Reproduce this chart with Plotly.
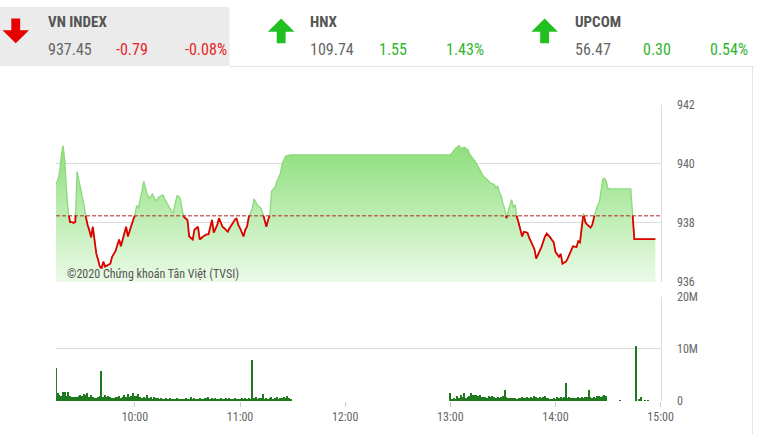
import plotly.graph_objects as go
import pandas as pd

DAY = "2020-06-15 "
W, H = 767, 441
REF = 938.24

price_times = [
 "09:15","09:16","09:17","09:18","09:19","09:20","09:21","09:22","09:23","09:24","09:25","09:26","09:27","09:28","09:29",
 "09:30","09:31","09:32","09:33","09:34","09:35","09:36","09:37","09:38","09:39","09:40","09:41","09:42","09:43","09:44",
 "09:45","09:46","09:47","09:48","09:49","09:50","09:51","09:52","09:53","09:54","09:55","09:56","09:57","09:58","09:59",
 "10:00","10:01","10:02","10:03","10:04","10:05","10:06","10:07","10:08","10:09","10:10","10:11","10:12","10:13","10:14",
 "10:15","10:16","10:17","10:18","10:19","10:20","10:21","10:22","10:23","10:24","10:25","10:26","10:27","10:28","10:29",
 "10:30","10:31","10:32","10:33","10:34","10:35","10:36","10:37","10:38","10:39","10:40","10:41","10:42","10:43","10:44",
 "10:45","10:46","10:47","10:48","10:49","10:50","10:51","10:52","10:53","10:54","10:55","10:56","10:57","10:58","10:59",
 "11:00","11:01","11:02","11:03","11:04","11:05","11:06","11:07","11:08","11:09","11:10","11:11","11:12","11:13","11:14",
 "11:15","11:16","11:17","11:18","11:19","11:20","11:21","11:22","11:23","11:24","11:25","11:26","11:27","11:28","11:29",
 "13:00","13:01","13:02","13:03","13:04","13:05","13:06","13:07","13:08","13:09","13:10","13:11","13:12","13:13","13:14",
 "13:15","13:16","13:17","13:18","13:19","13:20","13:21","13:22","13:23","13:24","13:25","13:26","13:27","13:28","13:29",
 "13:30","13:31","13:32","13:33","13:34","13:35","13:36","13:37","13:38","13:39","13:40","13:41","13:42","13:43","13:44",
 "13:45","13:46","13:47","13:48","13:49","13:50","13:51","13:52","13:53","13:54","13:55","13:56","13:57","13:58","13:59",
 "14:00","14:01","14:02","14:03","14:04","14:05","14:06","14:07","14:08","14:09","14:10","14:11","14:12","14:13","14:14",
 "14:15","14:16","14:17","14:18","14:19","14:20","14:21","14:22","14:23","14:24","14:25","14:26","14:27","14:28","14:29",
 "14:30","14:43","14:45","14:57"]

price_values = [
 939.31,939.45,939.70,940.30,940.62,940.13,939.08,938.36,938.03,938.03,938.00,938.03,939.74,939.45,939.20,
 938.98,938.60,938.20,937.93,937.75,937.51,937.87,937.40,936.95,936.75,936.52,936.46,936.69,936.52,936.55,
 936.59,936.62,936.85,936.95,937.05,937.25,937.44,937.21,937.45,937.61,937.87,937.54,937.75,937.93,938.10,
 938.25,938.59,938.49,938.75,939.08,939.41,939.15,938.98,938.82,938.90,938.98,938.85,938.75,938.82,938.89,
 938.92,938.95,938.82,938.69,938.60,938.49,938.40,938.33,938.66,938.92,938.90,938.82,938.43,938.20,938.15,
 938.10,937.54,937.48,937.44,937.77,937.82,937.87,937.44,937.50,937.54,937.58,937.61,937.61,937.85,938.10,
 937.67,937.80,937.93,938.16,938.00,937.87,937.82,937.77,937.70,937.82,937.93,938.03,938.10,938.16,937.93,
 937.82,937.70,937.54,937.77,937.87,938.20,938.35,938.49,938.82,938.69,938.59,938.55,938.49,938.33,938.10,
 937.87,938.10,938.26,939.08,939.15,939.21,939.41,939.55,939.67,940.00,940.16,940.26,940.28,940.30,940.30,
 940.30,940.39,940.45,940.52,940.58,940.62,940.52,940.54,940.56,940.52,940.49,940.33,940.26,940.20,940.10,
 940.00,939.90,939.80,939.70,939.57,939.52,939.48,939.41,939.34,939.33,939.31,939.18,939.25,939.05,938.92,
 938.66,938.49,938.16,938.43,938.60,938.79,938.52,938.62,938.20,938.00,937.75,937.54,937.70,937.68,937.67,
 937.50,937.38,937.25,937.11,936.79,936.95,937.05,937.18,937.38,937.54,937.64,937.58,937.51,937.42,937.34,
 937.02,936.92,936.85,936.95,936.62,936.66,936.69,936.80,936.95,937.11,937.21,937.20,937.18,937.38,937.34,
 937.85,938.33,938.03,937.95,937.90,937.84,937.93,938.20,938.40,938.59,938.69,939.08,939.48,939.51,939.41,
 939.15,939.15,937.45,937.45]

# volume (millions) per minute, morning session 09:15-11:29
vol_am = [
 6.4,
 1.7,1.2,1.0,1.8,1.8,1.1,1.9,1.0,0.9,
 0.8,0.9,0.8,1.0,1.3,1.1,1.5,1.2,1.6,0.9,
 1.3,0.9,0.7,0.6,0.8,1.1,5.8,0.9,1.2,0.9,
 1.0,0.8,0.7,0.7,0.9,0.8,1.0,0.7,0.9,1.3,
 0.9,1.4,0.8,1.0,1.6,1.1,1.0,1.5,0.8,0.6,
 0.9,0.6,1.2,0.7,0.9,0.5,0.8,0.6,0.7,0.5,
 0.6,0.5,0.4,0.6,0.5,0.7,0.4,0.5,0.4,0.6,
 0.5,0.4,0.5,0.4,0.6,0.5,0.4,0.8,0.5,0.6,
 0.4,0.5,0.6,0.4,0.5,0.7,0.6,0.8,0.5,0.6,
 0.5,0.7,0.4,0.5,0.6,0.4,0.5,0.6,0.5,0.7,
 0.5,0.4,0.6,0.5,0.4,0.5,0.6,0.5,0.7,0.4,
 0.6,0.5,7.9,0.6,0.8,0.5,0.7,0.6,1.4,0.5,
 0.7,0.5,0.6,0.8,0.5,0.6,0.9,0.5,0.7,0.6,
 0.8,0.6,1.0,0.7,0.5]
# afternoon session 13:00-14:29
vol_pm = [
 1.6,0.4,0.7,0.5,1.0,0.6,1.2,0.9,1.6,0.7,
 0.8,1.0,1.7,1.3,1.3,1.3,1.0,1.2,0.9,0.8,
 0.9,0.7,1.0,0.8,1.1,0.9,0.7,0.8,0.6,0.9,
 1.0,2.2,0.9,0.7,0.6,0.7,0.6,0.6,0.5,0.7,
 0.6,0.8,0.7,0.6,0.9,0.7,0.8,0.7,1.0,0.8,
 0.7,0.9,0.6,0.8,1.1,0.7,0.6,0.5,0.4,0.6,
 0.5,0.8,0.7,0.9,0.6,0.8,3.5,0.7,0.8,0.6,
 0.7,0.6,0.7,0.8,0.6,0.9,0.7,0.8,0.9,2.2,
 0.8,0.6,0.9,0.7,1.0,1.1,0.9,1.1,1.2,1.1]
vol_late_times = ["14:37","14:46","14:48","14:49","14:51","14:53"]
vol_late = [0.3,10.6,0.5,0.8,0.3,0.15]

price_ticks = [936, 938, 940, 942]
vol_ticks = [0, 10, 20]
vol_tick_text = ["0", "10M", "20M"]

header = [
    # (name, last, change, pct, is_up, x_arrow, x_text, x_chg, x_pct)
    ("VN INDEX", "937.45", "-0.79", "-0.08%", False, 16, 47.5, 116.5, 187),
    ("HNX", "109.74", "1.55", "1.43%", True, 286, 314.5, 384.5, 453),
    ("UPCOM", "56.47", "0.30", "0.54%", True, 554, 583.5, 653, 721),
]

FONT = "Liberation Sans Narrow, Roboto Condensed, Roboto, sans-serif"

def X(px): return px / W
def Y(py): return 1 - py / H

tt = pd.to_datetime([DAY + s for s in price_times])
pv = price_values

# red line segments (below reference), split at reference crossings
rx, ry = [], []
for i in range(len(pv)):
    p = pv[i]
    if i > 0:
        p0 = pv[i - 1]
        if (p0 - REF) * (p - REF) < 0:
            f = (REF - p0) / (p - p0)
            rx.append(tt[i - 1] + (tt[i] - tt[i - 1]) * f); ry.append(REF)
            if p > REF:
                rx.append(None); ry.append(None)
    if p <= REF:
        rx.append(tt[i]); ry.append(p)

vt_am = pd.date_range(DAY + "09:15", periods=len(vol_am), freq="1min")
vt_pm = pd.date_range(DAY + "13:00", periods=len(vol_pm), freq="1min")
vt_late = pd.to_datetime([DAY + s for s in vol_late_times])
vol_t = list(vt_am) + list(vt_pm) + list(vt_late)
vol_v = vol_am + vol_pm + vol_late

fig = go.Figure()
fig.add_trace(go.Scatter(
    x=tt, y=pv, mode="lines", line=dict(width=0, color="rgba(0,0,0,0)"),
    fill="tozeroy",
    fillgradient=dict(type="vertical", start=936, stop=940.7,
                      colorscale=[[0, "rgba(238,251,235,1)"], [1, "rgba(140,223,122,1)"]]),
    xaxis="x", yaxis="y", hoverinfo="skip"))
fig.add_trace(go.Scatter(x=tt, y=pv, mode="lines",
                         line=dict(width=1.3, color="#8cd97c"), xaxis="x", yaxis="y"))
fig.add_trace(go.Scatter(x=rx, y=ry, mode="lines",
                         line=dict(width=1.8, color="#e00000"), xaxis="x", yaxis="y"))
fig.add_trace(go.Bar(x=vol_t, y=vol_v, width=40000, marker=dict(color="#1f7a1f", line=dict(width=0)),
                     xaxis="x2", yaxis="y2"))

xr = [DAY + "09:15", DAY + "15:00"]
xdom = [X(57), X(672)]
grid = "#dcdcdc"
tickfont = dict(family=FONT, size=12, color="#666666")

fig.update_layout(
    width=W, height=H, autosize=False, margin=dict(l=0, r=0, t=0, b=0, pad=0),
    paper_bgcolor="white", plot_bgcolor="rgba(0,0,0,0)", showlegend=False,
    xaxis=dict(domain=xdom, range=xr, type="date", anchor="y", showticklabels=False,
               showgrid=False, zeroline=False, showline=False, ticks=""),
    yaxis=dict(domain=[Y(284), Y(101)], range=[936, 942], side="right", anchor="x",
               tickvals=price_ticks, gridcolor=grid, gridwidth=1, zeroline=False,
               showline=True, linecolor=grid, ticks="outside", ticklen=13,
               tickcolor="rgba(0,0,0,0)", tickfont=tickfont),
    xaxis2=dict(domain=xdom, range=xr, type="date", anchor="y2", showgrid=False,
                zeroline=False, showline=False, ticks="outside", ticklen=5, tickcolor="#cccccc",
                tick0=DAY + "10:00", dtick=3600000, tickformat="%H:%M", tickfont=tickfont),
    yaxis2=dict(domain=[Y(407), Y(299)], range=[0, 20], side="right", anchor="x2",
                tickvals=vol_ticks, ticktext=vol_tick_text, gridcolor=grid, zeroline=False,
                showline=True, linecolor=grid, ticks="outside", ticklen=13,
                tickcolor="rgba(0,0,0,0)", tickfont=tickfont),
    bargap=0,
)

shapes = [
    dict(type="rect", xref="paper", yref="paper", x0=0, x1=X(233.5), y0=Y(61), y1=1,
         fillcolor="#ebebeb", line=dict(width=0), layer="below"),
    dict(type="line", xref="paper", yref="paper", x0=X(233.5), x1=1, y0=Y(61.5), y1=Y(61.5),
         line=dict(color="#e4e4e4", width=1)),
    dict(type="line", xref="paper", yref="paper", x0=X(765.5), x1=X(765.5), y0=0, y1=Y(62),
         line=dict(color="#e6e6e6", width=1)),
    dict(type="line", xref="x domain", yref="y", x0=0, x1=1, y0=REF, y1=REF,
         line=dict(color="#b3261e", width=1, dash="4px,2px")),
]

def arrow(cx, up, color):
    if up:
        pts = [(cx, 12), (cx + 13.5, 25.5), (cx + 4.5, 25.5), (cx + 4.5, 37.5),
               (cx - 4.5, 37.5), (cx - 4.5, 25.5), (cx - 13.5, 25.5)]
    else:
        pts = [(cx, 37.5), (cx + 13.5, 24), (cx + 4.5, 24), (cx + 4.5, 12),
               (cx - 4.5, 12), (cx - 4.5, 24), (cx - 13.5, 24)]
    path = "M " + " L ".join(f"{X(a):.5f},{Y(b):.5f}" for a, b in pts) + " Z"
    return dict(type="path", xref="paper", yref="paper", path=path,
                fillcolor=color, line=dict(width=0))

annotations = []
for name, last, chg, pct, up, xa, xt, xc, xp in header:
    col = "#2fb52f" if up else "#e5252a"
    shapes.append(arrow(xa, up, "#1fc01f" if up else "#e60000"))
    annotations.append(dict(x=X(xt - 1), y=Y(16), xref="paper", yref="paper",
                            text="<b>" + name + "</b>",
                            showarrow=False, xanchor="left", yanchor="middle",
                            font=dict(family=FONT, size=15, color="#555555")))
    for txt, xx, c in [(last, xt, "#666666"), (chg, xc, col), (pct, xp, col)]:
        annotations.append(dict(x=X(xx - 1), y=Y(43.5), xref="paper", yref="paper", text=txt,
                                showarrow=False, xanchor="left", yanchor="middle",
                                font=dict(family=FONT, size=16, color=c)))

annotations.append(dict(x=X(66), y=Y(275.5), xref="paper", yref="paper",
                        text="©2020 Chứng khoán Tân Việt (TVSI)", showarrow=False,
                        xanchor="left", yanchor="middle",
                        font=dict(family=FONT, size=12, color="#555555")))

fig.update_layout(shapes=shapes, annotations=annotations)
fig.write_html(
    "out.html",
    config={"displayModeBar": False, "responsive": False},
    post_script="document.body.style.margin='0';document.body.style.overflow='hidden';"
                "document.documentElement.style.overflow='hidden';",
)
